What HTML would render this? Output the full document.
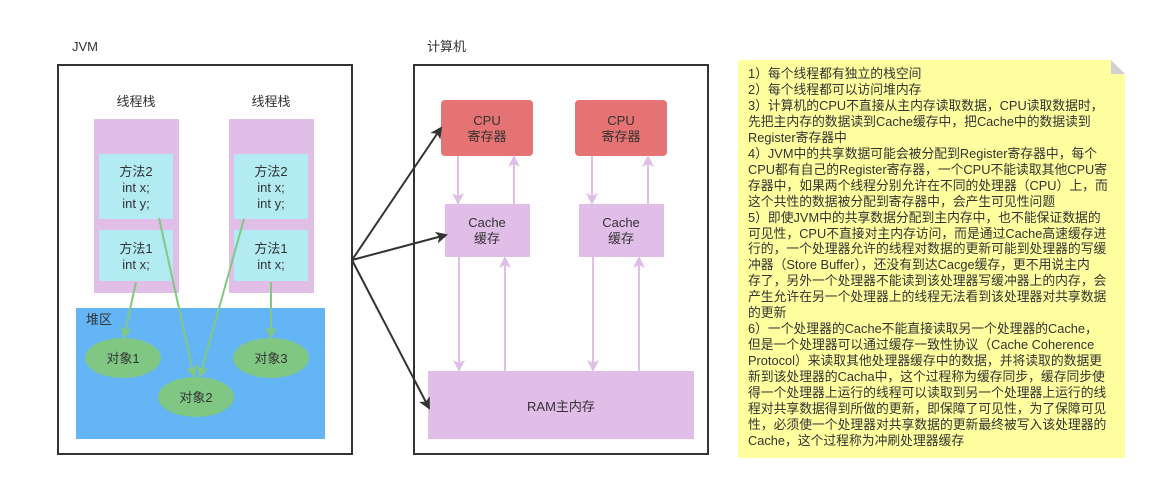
<!DOCTYPE html>
<html><head><meta charset="utf-8"><style>
html,body{margin:0;padding:0;background:#fff;}
svg text{font-family:"Liberation Sans","Noto Sans CJK SC",sans-serif;font-size:13px;fill:#333;}
.note{position:absolute;left:738px;top:60px;width:387px;height:398px;background:#ffff9f;}
.note div{position:absolute;left:10px;top:6px;width:380px;font-family:"Liberation Sans","Noto Sans CJK SC",sans-serif;font-size:12.8px;line-height:15.95px;color:#333;white-space:nowrap;}
</style></head><body>
<div style="position:relative;width:1151px;height:484px;overflow:hidden">
<svg width="1151" height="484" style="position:absolute;left:0;top:0">
<defs>
<marker id="g" markerWidth="12" markerHeight="12" refX="10" refY="6" orient="auto" markerUnits="userSpaceOnUse"><path d="M0,0 L12,6 L0,12 L3,6z" fill="#82c882"/></marker>
<marker id="p" markerWidth="12" markerHeight="12" refX="10" refY="6" orient="auto" markerUnits="userSpaceOnUse"><path d="M0,0 L12,6 L0,12 L3,6z" fill="#e1bee7"/></marker>
<marker id="k" markerWidth="12" markerHeight="12" refX="10" refY="6" orient="auto" markerUnits="userSpaceOnUse"><path d="M0,0 L12,6 L0,12 L3,6z" fill="#333"/></marker>
</defs>
<text x="72" y="51">JVM</text>
<text x="427" y="51">计算机</text>
<rect x="58" y="65" width="294" height="389" fill="#fff" stroke="#333" stroke-width="2"/>
<rect x="414" y="65" width="294" height="389" fill="#fff" stroke="#333" stroke-width="2"/>
<text x="136" y="106" text-anchor="middle">线程栈</text>
<text x="271" y="106" text-anchor="middle">线程栈</text>
<rect x="94" y="119" width="85" height="174" fill="#e1bee7"/>
<rect x="229" y="119" width="85" height="174" fill="#e1bee7"/>
<rect x="99" y="154" width="74" height="65" fill="#b2ebf2"/>
<rect x="99" y="230" width="74" height="51" fill="#b2ebf2"/>
<rect x="234" y="154" width="74" height="65" fill="#b2ebf2"/>
<rect x="234" y="230" width="74" height="51" fill="#b2ebf2"/>
<g text-anchor="middle">
<text x="136" y="176">方法2</text><text x="136" y="192">int x;</text><text x="136" y="208">int y;</text>
<text x="136" y="253">方法1</text><text x="136" y="269">int x;</text>
<text x="271" y="176">方法2</text><text x="271" y="192">int x;</text><text x="271" y="208">int y;</text>
<text x="271" y="253">方法1</text><text x="271" y="269">int x;</text>
</g>
<rect x="76" y="308" width="249" height="131" fill="#64b5f6"/>
<text x="86" y="324">堆区</text>
<ellipse cx="123" cy="358" rx="38" ry="20" fill="#81c784"/>
<ellipse cx="196" cy="397" rx="38" ry="20" fill="#81c784"/>
<ellipse cx="271" cy="358" rx="38" ry="20" fill="#81c784"/>
<g text-anchor="middle"><text x="123" y="363">对象1</text><text x="196" y="402">对象2</text><text x="271" y="363">对象3</text></g>
<g stroke="#82c882" stroke-width="2" fill="none" marker-end="url(#g)">
<line x1="136" y1="282" x2="124" y2="337"/>
<line x1="159" y1="218" x2="194" y2="376"/>
<line x1="244" y1="219" x2="200" y2="376"/>
<line x1="271" y1="282" x2="271" y2="337"/>
</g>
<rect x="441" y="100" width="92" height="56" rx="4" fill="#e57373"/>
<rect x="575" y="100" width="92" height="56" rx="4" fill="#e57373"/>
<rect x="445" y="204" width="85" height="53" fill="#e1bee7"/>
<rect x="579" y="204" width="85" height="53" fill="#e1bee7"/>
<rect x="428" y="371" width="266" height="68" fill="#e1bee7"/>
<g text-anchor="middle">
<text x="487" y="125">CPU</text><text x="487" y="141">寄存器</text>
<text x="621" y="125">CPU</text><text x="621" y="141">寄存器</text>
<text x="487" y="227">Cache</text><text x="487" y="243">缓存</text>
<text x="621" y="227">Cache</text><text x="621" y="243">缓存</text>
<text x="561" y="411">RAM主内存</text>
</g>
<g stroke="#e1bee7" stroke-width="2" fill="none" marker-end="url(#p)">
<line x1="458" y1="156" x2="458" y2="203"/>
<line x1="514" y1="204" x2="514" y2="157"/>
<line x1="592" y1="156" x2="592" y2="203"/>
<line x1="648" y1="204" x2="648" y2="157"/>
<line x1="459" y1="257" x2="459" y2="370"/>
<line x1="505" y1="371" x2="505" y2="258"/>
<line x1="593" y1="257" x2="593" y2="370"/>
<line x1="639" y1="371" x2="639" y2="258"/>
</g>
<g stroke="#333" stroke-width="2" fill="none" marker-end="url(#k)">
<line x1="352" y1="260" x2="441" y2="128"/>
<line x1="352" y1="260" x2="446" y2="235"/>
<line x1="352" y1="260" x2="429" y2="408"/>
</g>
</svg>
<div class="note">
<div>1）每个线程都有独立的栈空间<br>2）每个线程都可以访问堆内存<br>3）计算机的CPU不直接从主内存读取数据，CPU读取数据时，<br>先把主内存的数据读到Cache缓存中，把Cache中的数据读到<br>Register寄存器中<br>4）JVM中的共享数据可能会被分配到Register寄存器中，每个<br>CPU都有自己的Register寄存器，一个CPU不能读取其他CPU寄<br>存器中，如果两个线程分别允许在不同的处理器（CPU）上，而<br>这个共性的数据被分配到寄存器中，会产生可见性问题<br>5）即使JVM中的共享数据分配到主内存中，也不能保证数据的<br>可见性，CPU不直接对主内存访问，而是通过Cache高速缓存进<br>行的，一个处理器允许的线程对数据的更新可能到处理器的写缓<br>冲器（Store Buffer），还没有到达Cacge缓存，更不用说主内<br>存了，另外一个处理器不能读到该处理器写缓冲器上的内存，会<br>产生允许在另一个处理器上的线程无法看到该处理器对共享数据<br>的更新<br>6）一个处理器的Cache不能直接读取另一个处理器的Cache，<br>但是一个处理器可以通过缓存一致性协议（Cache Coherence<br>Protocol）来读取其他处理器缓存中的数据，并将读取的数据更<br>新到该处理器的Cacha中，这个过程称为缓存同步，缓存同步使<br>得一个处理器上运行的线程可以读取到另一个处理器上运行的线<br>程对共享数据得到所做的更新，即保障了可见性，为了保障可见<br>性，必须使一个处理器对共享数据的更新最终被写入该处理器的<br>Cache，这个过程称为冲刷处理器缓存</div>
<svg width="14" height="14" style="position:absolute;right:0;top:0"><path d="M0,0 L14,14 L14,0z" fill="#fff"/><path d="M0,0 L14,14 L0,14z" fill="#d0d0d0"/></svg>
</div>
</div>
</body></html>
